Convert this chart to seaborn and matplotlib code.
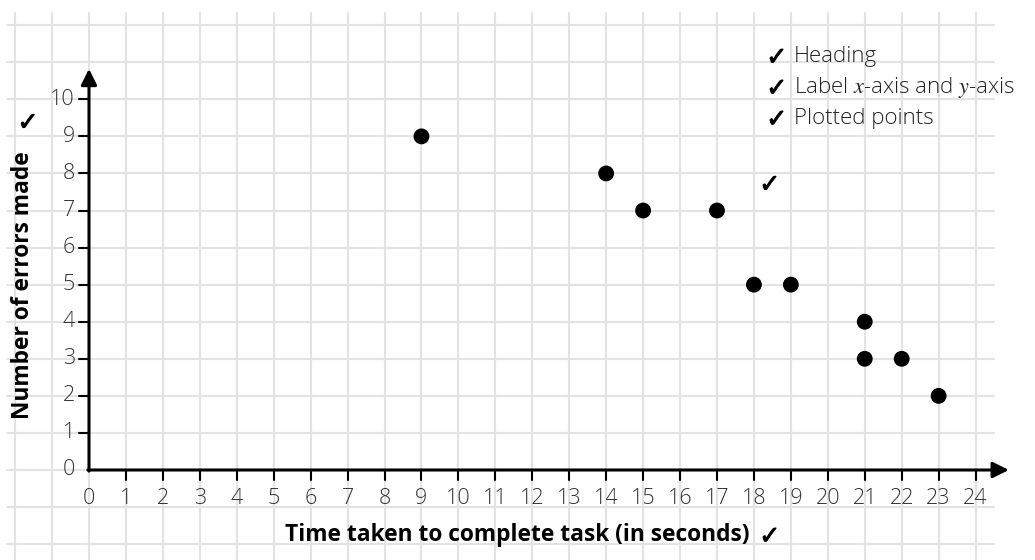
import matplotlib
matplotlib.use("Agg")
import matplotlib.pyplot as plt
import matplotlib.patheffects as pe
import seaborn as sns
import pandas as pd

# data
time_taken = [9, 14, 15, 17, 18, 19, 21, 21, 22, 23]
errors_made = [9, 8, 7, 7, 5, 5, 4, 3, 3, 2]
x_ticks = list(range(0, 25))
y_ticks = list(range(0, 11))
x_label = "Time taken to complete task (in seconds)"
y_label = "Number of errors made"
check = "\u2713"
checklist = ["Heading",
             "Label $x$-axis and $y$-axis",
             "Plotted points"]

sns.set_style("white")
plt.rcParams["font.family"] = ["Open Sans", "DejaVu Sans"]
plt.rcParams["mathtext.fontset"] = "stix"

fig = plt.figure(figsize=(10.35, 5.6), dpi=100)
ax = fig.add_axes([0, 0, 1, 1])
ax.set_xlim(-2.409, 25.609)
ax.set_ylim(-2.428, 12.679)
ax.set_axis_off()

# graph-paper grid (runs past the axes)
grid_col = "#e3e3e3"
for gx in range(-2, 25):
    ax.plot([gx, gx], [-2.5, 12.33], color=grid_col, lw=1.5, zorder=0)
for gy in range(-2, 13):
    ax.plot([-2.22, 24.5], [gy, gy], color=grid_col, lw=1.5, zorder=0)

# axes with arrow heads
arrow = dict(arrowstyle="-|>", color="black", lw=2.2, mutation_scale=24,
             shrinkA=0, shrinkB=0)
ax.annotate("", xy=(24.9, 0), xytext=(-0.03, 0), arrowprops=arrow, zorder=3)
ax.annotate("", xy=(0, 10.82), xytext=(0, -0.03), arrowprops=arrow, zorder=3)

tick_col = "#333333"
for t in x_ticks:
    if t > 0:
        ax.plot([t, t], [0, -0.27], color="black", lw=1.5, zorder=3)
    ax.text(t, -0.76, str(t), ha="center", va="center", fontsize=15.5,
            fontweight="light", color=tick_col)
for t in y_ticks:
    if t > 0:
        ax.plot([0, -0.27], [t, t], color="black", lw=1.5, zorder=3)
    ax.text(-0.38, t, str(t), ha="right", va="center", fontsize=15.5,
            fontweight="light", color=tick_col)

# points
df = pd.DataFrame({"time": time_taken, "errors": errors_made})
sns.scatterplot(data=df, x="time", y="errors", ax=ax, color="black", s=130,
                edgecolor="none", zorder=4, legend=False)

# slightly heavier tick marks, like the marker's pen
thick = [pe.withStroke(linewidth=0.7, foreground="black")]
ck = dict(ha="center", va="center", fontsize=18, fontweight="bold",
          color="black", family="DejaVu Sans", path_effects=thick)

# axis titles, each followed by a tick mark
ax.text(11.59, -1.75, x_label, ha="center", va="center", fontsize=16.4,
        fontweight="bold", color="black")
ax.text(18.43, -1.8, check, **ck)
ax.text(-1.79, 5.0, y_label, ha="center", va="center", rotation=90,
        fontsize=16.4, fontweight="bold", color="black")
ax.text(-1.65, 9.36, check, **ck)

# marking checklist
for i, line in enumerate(checklist):
    yy = 11.15 - 0.835 * i
    ax.text(18.62, yy - 0.03, check, **ck)
    ax.text(19.08, yy, line, ha="left", va="center",
            fontsize=16, fontweight="light", color="#222222")

ax.text(18.43, 7.69, check, **ck)

fig.savefig("out.png", dpi=100)
